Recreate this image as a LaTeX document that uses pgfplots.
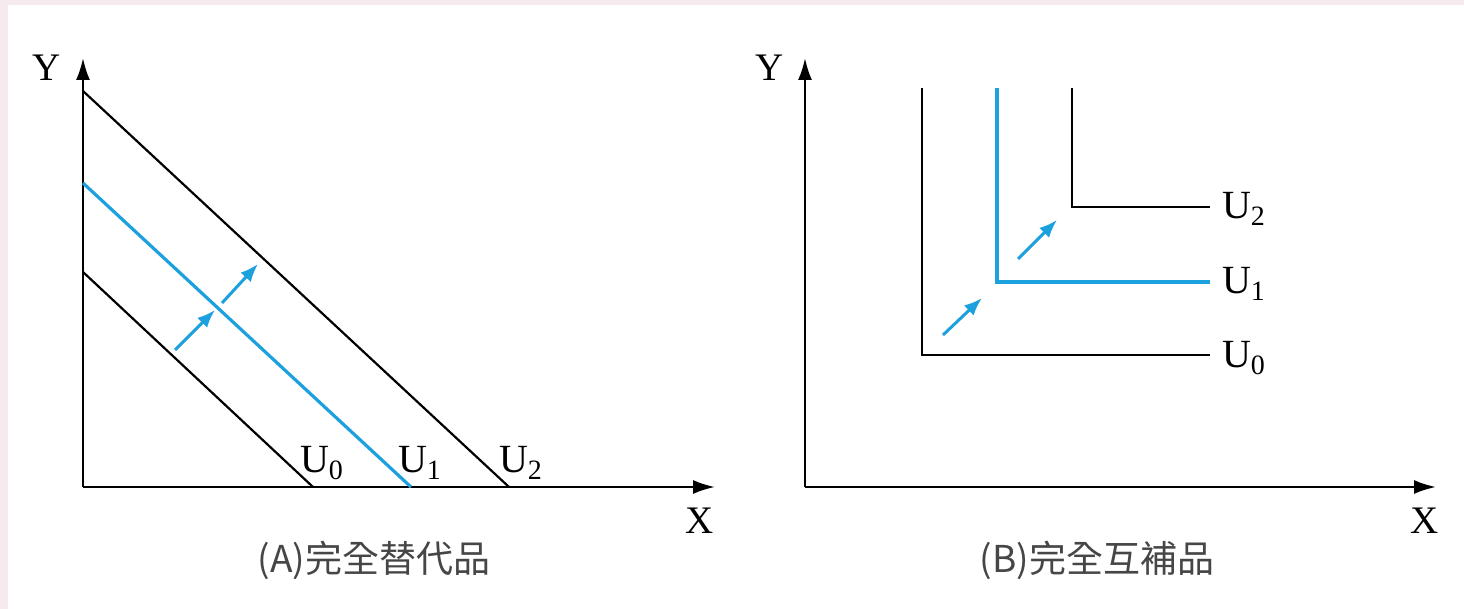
\documentclass[border=0pt]{standalone}
\usepackage{fontspec}
\setmainfont{Liberation Serif}
\newfontfamily\cjk{Noto Sans CJK TC}
\usepackage{pgfplots}
\pgfplotsset{compat=1.18}
\usetikzlibrary{arrows.meta}
\definecolor{sky}{RGB}{28,160,222}
\definecolor{bgpink}{RGB}{246,234,238}
\definecolor{capgray}{RGB}{70,70,70}
\newcommand{\U}[1]{\fontsize{20}{22}\selectfont U\textsubscript{#1}}
\begin{document}
\begin{tikzpicture}
\fill[bgpink] (0,0) rectangle (732pt,-304.5pt);
\fill[white] (4pt,-2.5pt) rectangle (732pt,-304.5pt);
\pgfplotsset{
  panel/.style={
    scale only axis, clip=false,
    xmin=0, ymin=0, ymax=429,
    axis lines=left,
    axis line style={line width=1.1pt, -{Latex[length=11pt,width=7pt]}},
    xtick=\empty, ytick=\empty,
    anchor=south west,
  },
  blk/.style={black, line width=1.1pt, no marks},
  blu/.style={sky, line width=1.6pt, no marks},
  arr/.style={sky, line width=1.5pt, no marks, -{Latex[length=9pt,width=7pt]}},
}
% Panel A
\begin{axis}[panel, at={(41.5pt,-243.5pt)}, width=316pt, height=214.5pt, xmax=632]
\addplot[blk] coordinates {(0,215) (230,0)};
\addplot[blu] coordinates {(0,304) (328,0)};
\addplot[blk] coordinates {(0,396) (426,0)};
\addplot[arr] coordinates {(92,137) (132,177)};
\addplot[arr] coordinates {(139,184) (175,223)};
\node at (axis cs:239,24) {\U{0}};
\node at (axis cs:337,24) {\U{1}};
\node at (axis cs:438,24) {\U{2}};
\node at (axis cs:-36,419) {\fontsize{19.5}{20}\selectfont Y};
\node at (axis cs:617,-34) {\fontsize{19.5}{20}\selectfont X};
\node[capgray] at (axis cs:291,-73) {\cjk\fontsize{18.5}{20}\selectfont (A)完全替代品};
\end{axis}
% Panel B
\begin{axis}[panel, at={(402.5pt,-243.5pt)}, width=315.5pt, height=214.5pt, xmax=631]
\addplot[blk] coordinates {(117,399) (117,132) (405,132)};
\addplot[blu] coordinates {(192,399) (192,205) (405,205)};
\addplot[blk] coordinates {(267,399) (267,280) (405,280)};
\addplot[arr] coordinates {(138,152) (177,189)};
\addplot[arr] coordinates {(213,228) (252,267)};
\node[anchor=west] at (axis cs:410,129) {\U{0}};
\node[anchor=west] at (axis cs:410,203) {\U{1}};
\node[anchor=west] at (axis cs:410,278) {\U{2}};
\node at (axis cs:-35,419) {\fontsize{19.5}{20}\selectfont Y};
\node at (axis cs:620,-34) {\fontsize{19.5}{20}\selectfont X};
\node[capgray] at (axis cs:292,-73) {\cjk\fontsize{18.5}{20}\selectfont (B)完全互補品};
\end{axis}
\end{tikzpicture}
\end{document}
